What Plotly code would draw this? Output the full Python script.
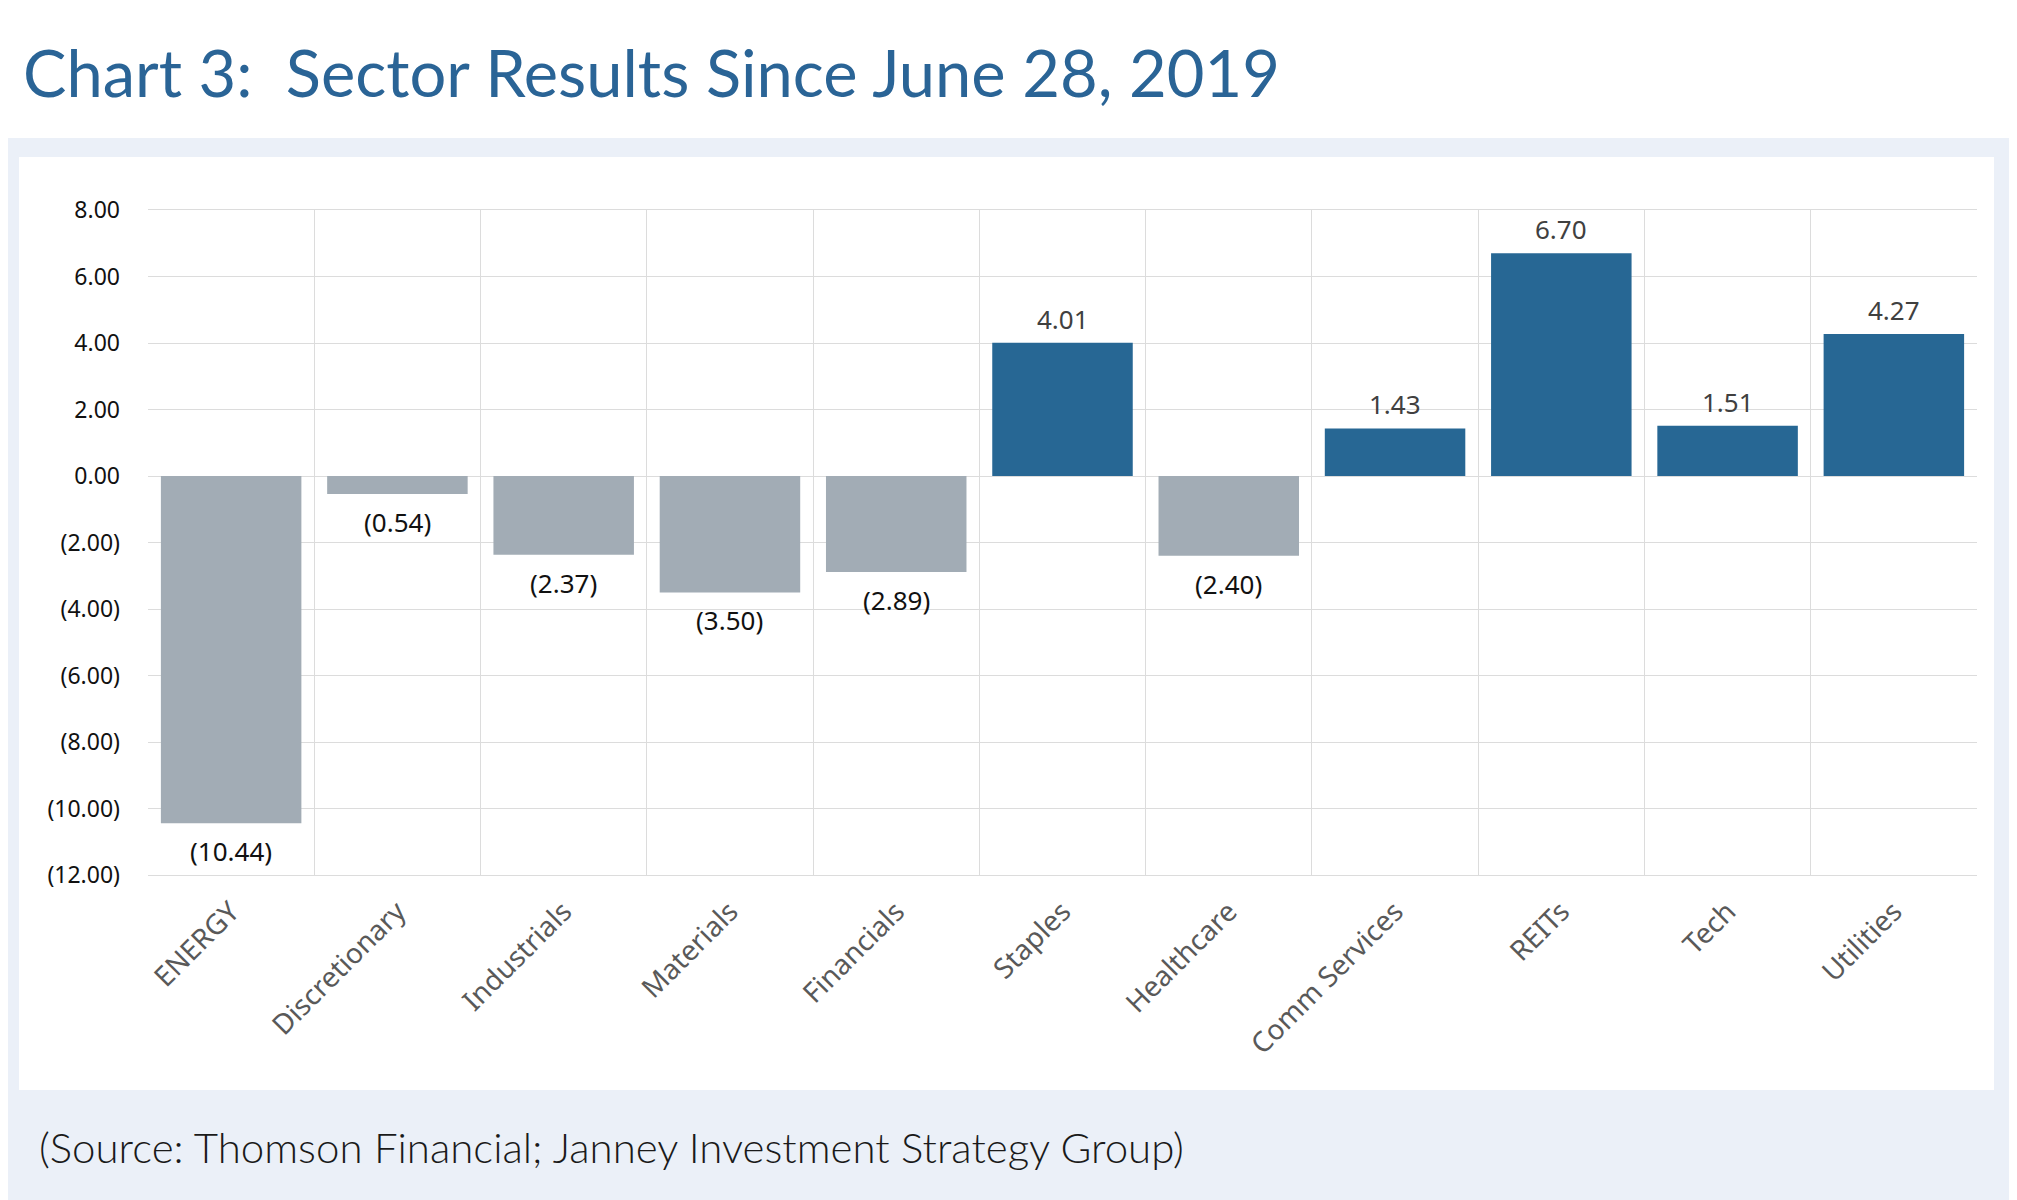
import plotly.graph_objects as go

W, H = 2017, 1200

sectors = ['ENERGY', 'Discretionary', 'Industrials', 'Materials', 'Financials', 'Staples',
           'Healthcare', 'Comm Services', 'REITs', 'Tech', 'Utilities']
results = [-10.44, -0.54, -2.37, -3.50, -2.89, 4.01, -2.40, 1.43, 6.70, 1.51, 4.27]

y_ticks = [8, 6, 4, 2, 0, -2, -4, -6, -8, -10, -12]
y_tick_text = ['8.00', '6.00', '4.00', '2.00', '0.00', '(2.00)', '(4.00)', '(6.00)',
               '(8.00)', '(10.00)', '(12.00)']

title = 'Chart 3:  Sector Results Since June 28, 2019'
source = '(Source: Thomson Financial; Janney Investment Strategy Group)'

BLUE = '#276794'
GRAY = '#A2ACB5'
GRID = '#DCDCDC'

# page body adds 8px, so pixel targets below are taken 8px up/left
OFF = 8
L, R, T, B = 148 - OFF, 40 + OFF, 210 - OFF, 325 + OFF
px_w = W - L - R
px_h = H - T - B


def px_x(x):
    return (x - OFF - L) / px_w


def px_y(y):
    return (H - B - (y - OFF)) / px_h


def fmt(v):
    # negatives shown in brackets, accountant style
    return '(%.2f)' % abs(v) if v < 0 else '%.2f' % v


colors = [BLUE if v > 0 else GRAY for v in results]

fig = go.Figure()
fig.add_trace(go.Bar(
    x=sectors,
    y=results,
    marker=dict(color=colors, line=dict(width=0)),
    showlegend=False,
    hoverinfo='x+y',
))

# value labels
for s, v in zip(sectors, results):
    fig.add_annotation(
        x=s, y=v, xref='x', yref='y',
        text=fmt(v), showarrow=False,
        yanchor='middle', yshift=24 if v > 0 else -28,
        font=dict(family='Noto Sans', size=26, color='#404040' if v > 0 else '#111111'),
    )

fig.update_layout(
    width=W, height=H,
    paper_bgcolor='white',
    plot_bgcolor='white',
    margin=dict(l=L, r=R, t=T, b=B),
    bargap=0.155,
    font=dict(family='Noto Sans'),
)

# background panels
fig.add_shape(type='rect', xref='paper', yref='paper', layer='below',
              x0=px_x(0), x1=px_x(W + 20), y0=px_y(138), y1=px_y(H + 20),
              line=dict(width=0), fillcolor='#EBF0F8')
fig.add_shape(type='rect', xref='paper', yref='paper', layer='below',
              x0=px_x(19), x1=px_x(1994), y0=px_y(157), y1=px_y(1090),
              line=dict(width=0), fillcolor='white')

fig.update_xaxes(
    type='category',
    tickson='boundaries',
    showgrid=True, gridcolor=GRID, gridwidth=1,
    showline=True, linecolor=GRID, mirror=True,
    ticks='', tickangle=-45, ticklabelstandoff=8,
    tickfont=dict(family='Noto Sans', size=28, color='#595959'),
)
fig.update_yaxes(
    range=[-12, 8],
    tickvals=y_ticks, ticktext=y_tick_text,
    showgrid=True, gridcolor=GRID, gridwidth=1,
    zeroline=False,
    showline=False,
    ticks='', ticklabelstandoff=27,
    tickfont=dict(family='Noto Sans', size=23, color='#111111'),
)

fig.add_annotation(text=title, xref='paper', yref='paper',
                   x=px_x(21), y=px_y(72), xanchor='left', yanchor='middle',
                   showarrow=False,
                   font=dict(family='Lato', size=65, color='#2A6496'))
fig.add_annotation(text=source, xref='paper', yref='paper',
                   x=px_x(37), y=px_y(1147), xanchor='left', yanchor='middle',
                   showarrow=False,
                   font=dict(family='Lato', size=42, weight=300, color='#1A1A1A'))

fig.write_html('out.html')
